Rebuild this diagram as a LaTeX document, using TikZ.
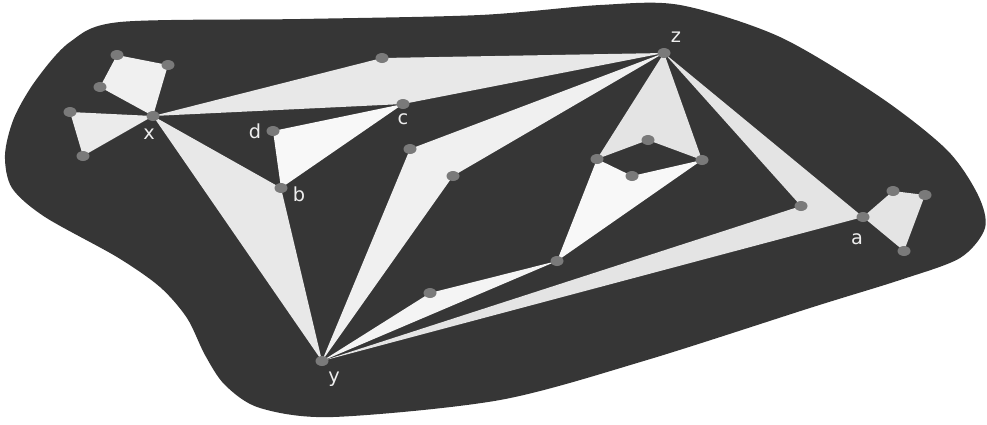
\documentclass[tikz,border=0pt]{standalone}
\usepackage{fontspec}
\setsansfont{DejaVu Sans}
\usetikzlibrary{shapes.geometric}
\definecolor{blobdark}{HTML}{363636}
\definecolor{vtxgrey}{HTML}{7A7A7A}
\definecolor{lblwhite}{HTML}{EEEEEE}
\definecolor{faceA}{HTML}{F0F0F0}
\definecolor{faceB}{HTML}{E8E8E8}
\definecolor{faceC}{HTML}{F8F8F8}
\definecolor{faceD}{HTML}{E4E4E4}
\tikzset{
  font=\sffamily,
  blob/.style={fill=blobdark},
  face/.style={fill=#1},
  vtx/.style={ellipse,fill=vtxgrey,inner sep=0pt,minimum width=2.6mm,minimum height=2mm},
  lbl/.style={text=lblwhite,font=\sffamily\fontsize{11}{13}\selectfont,inner sep=0pt},
}
\begin{document}
\begin{tikzpicture}[x=0.02cm,y=-0.02cm]
  \useasboundingbox (0,0) rectangle (987,424);
  % dark region
  \fill[blob] plot[smooth cycle,tension=0.5] coordinates {
    (5,155) (14,118) (36,80) (70,42) (120,22) (300,19) (480,15) (600,5)
    (680,5) (780,37) (880,97) (947,150) (978,195) (985,228) (960,258)
    (900,280) (813,307) (647,360) (500,400) (333,417) (260,408) (225,385)
    (205,355) (187,318) (160,287) (117,257) (45,217) (12,188)};

  % vertices
  \coordinate (x) at (153,116);
  \coordinate (y) at (322,361);
  \coordinate (z) at (664,53);
  \coordinate (a) at (863,217);
  \coordinate (b) at (281,188);
  \coordinate (c) at (403,104);
  \coordinate (d) at (273,131);
  \coordinate (x1) at (100,87);
  \coordinate (x2) at (117,55);
  \coordinate (x3) at (168,65);
  \coordinate (x4) at (70,112);
  \coordinate (x5) at (83,156);
  \coordinate (t1) at (382,58);
  \coordinate (f1) at (410,149);
  \coordinate (f2) at (453,176);
  \coordinate (m1) at (430,293);
  \coordinate (m2) at (557,261);
  \coordinate (q1) at (597,159);
  \coordinate (q2) at (648,140);
  \coordinate (q3) at (702,160);
  \coordinate (q4) at (632,176);
  \coordinate (r1) at (801,206);
  \coordinate (a1) at (893,191);
  \coordinate (a2) at (925,195);
  \coordinate (a3) at (904,251);

  % faces
  \fill[face=faceA] (x) -- (x1) -- (x2) -- (x3) -- cycle;
  \fill[face=faceB!60!faceA] (x4) -- (x) -- (x5) -- cycle;
  \fill[face=faceB] (x) -- (t1) -- (z) -- (c) -- cycle;
  \fill[face=faceC] (d) -- (c) -- (b) -- cycle;
  \fill[face=faceB] (x) -- (b) -- (y) -- cycle;
  \fill[face=faceA] (y) -- (f1) -- (z) -- (f2) -- cycle;
  \fill[face=faceA!50!faceC] (y) -- (m1) -- (m2) -- cycle;
  \fill[face=faceC] (m2) -- (q1) -- (q4) -- (q3) -- cycle;
  \fill[face=faceD] (z) -- (q1) -- (q2) -- (q3) -- cycle;
  \fill[face=faceD] (y) -- (r1) -- (z) -- (a) -- cycle;
  \fill[face=faceD] (a) -- (a1) -- (a2) -- (a3) -- cycle;

  % dots
  \foreach \p in {x,y,z,a,b,c,d,x1,x2,x3,x4,x5,t1,f1,f2,m1,m2,q1,q2,q3,q4,r1,a1,a2,a3}
    \node[vtx] (\p-dot) at (\p) {};

  % labels
  \node[lbl] (x-lbl) at ([shift={(-4,18)}]x) {x};
  \node[lbl] (y-lbl) at ([shift={(12,18)}]y) {y};
  \node[lbl] (z-lbl) at ([shift={(12,-16)}]z) {z};
  \node[lbl] (a-lbl) at ([shift={(-6,22)}]a) {a};
  \node[lbl] (b-lbl) at ([shift={(18,6)}]b) {b};
  \node[lbl] (c-lbl) at ([shift={(0,15)}]c) {c};
  \node[lbl] (d-lbl) at ([shift={(-18,0)}]d) {d};
\end{tikzpicture}
\end{document}
